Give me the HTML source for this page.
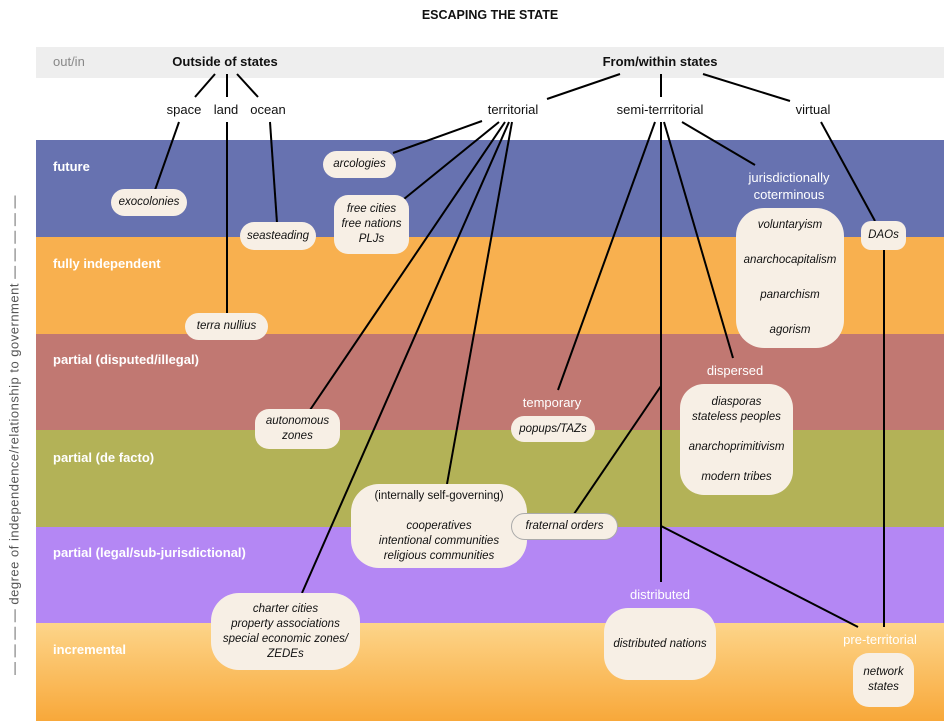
<!DOCTYPE html>
<html><head><meta charset="utf-8"><style>
body{margin:0;width:944px;height:721px;overflow:hidden;background:#fff;font-family:"Liberation Sans",Arial,sans-serif;}
.b{position:absolute;left:36px;width:908px}
.bl{position:absolute;left:53px;color:#fff;font-weight:bold;font-size:13px}
.n{position:absolute;background:#f7efe5;border-radius:14px;font-style:italic;font-size:11.5px;color:#111;display:flex;flex-direction:column;justify-content:center;align-items:center;text-align:center;line-height:15px}
.t{position:absolute;font-size:13px;color:#111;transform:translateX(-50%);white-space:nowrap}
.w{position:absolute;font-size:13px;color:#fff;transform:translateX(-50%);white-space:nowrap;text-align:center;line-height:17px}
</style></head><body>
<div class="t" style="left:490px;top:8px;font-weight:bold;font-size:12.5px">ESCAPING THE STATE</div>
<div class="b" style="top:47px;height:31px;background:#eeeeee"></div>
<div style="position:absolute;left:53px;top:54px;font-size:13px;color:#888">out/in</div>
<div class="t" style="left:225px;top:54px;font-weight:bold">Outside of states</div>
<div class="t" style="left:660px;top:54px;font-weight:bold">From/within states</div>
<div class="b" style="top:140px;height:97px;background:#6772b0"></div>
<div class="b" style="top:237px;height:97px;background:#f8b04f"></div>
<div class="b" style="top:334px;height:96px;background:#c17872"></div>
<div class="b" style="top:430px;height:97px;background:#b3b257"></div>
<div class="b" style="top:527px;height:96px;background:#b487f4"></div>
<div class="b" style="top:623px;height:98px;background:linear-gradient(#fdd58a,#f8a83a)"></div>
<div class="bl" style="top:159px">future</div>
<div class="bl" style="top:256px">fully independent</div>
<div class="bl" style="top:352px">partial (disputed/illegal)</div>
<div class="bl" style="top:450px">partial (de facto)</div>
<div class="bl" style="top:545px">partial (legal/sub-jurisdictional)</div>
<div class="bl" style="top:642px">incremental</div>
<div style="position:absolute;left:14px;top:435px;transform:translate(-50%,-50%) rotate(-90deg);white-space:nowrap;font-size:13px;color:#555;letter-spacing:0.5px">— — — — degree of independence/relationship to government — — — — —</div>
<svg width="944" height="721" style="position:absolute;left:0;top:0" stroke="#000" stroke-width="2" fill="none">
<line x1="215" y1="74" x2="195" y2="97"/><line x1="227" y1="74" x2="227" y2="97"/><line x1="237" y1="74" x2="258" y2="97"/>
<line x1="179" y1="122" x2="155" y2="190"/><line x1="227" y1="122" x2="227" y2="313"/><line x1="270" y1="122" x2="277" y2="223"/>
<line x1="620" y1="74" x2="547" y2="99"/><line x1="661" y1="74" x2="661" y2="97"/><line x1="703" y1="74" x2="790" y2="101"/>
<line x1="482" y1="121" x2="393" y2="153"/><line x1="499" y1="122" x2="404" y2="199"/><line x1="505" y1="122" x2="310" y2="410"/>
<line x1="509" y1="122" x2="302" y2="593"/><line x1="512" y1="122" x2="447" y2="484"/>
<line x1="655" y1="122" x2="558" y2="390"/><line x1="661" y1="122" x2="661" y2="582"/><line x1="664" y1="122" x2="733" y2="358"/><line x1="682" y1="122" x2="755" y2="165"/>
<line x1="661" y1="386" x2="574" y2="514"/><line x1="661" y1="526" x2="858" y2="627"/>
<line x1="821" y1="122" x2="875" y2="221"/><line x1="884" y1="250" x2="884" y2="627"/>
</svg>
<div class="t" style="left:184px;top:102px">space</div><div class="t" style="left:226px;top:102px">land</div><div class="t" style="left:268px;top:102px">ocean</div>
<div class="t" style="left:513px;top:102px">territorial</div><div class="t" style="left:660px;top:102px">semi-terrritorial</div><div class="t" style="left:813px;top:102px">virtual</div>
<div class="n" style="left:111px;top:189px;width:76px;height:27px">exocolonies</div>
<div class="n" style="left:240px;top:222px;width:76px;height:28px">seasteading</div>
<div class="n" style="left:323px;top:151px;width:73px;height:27px">arcologies</div>
<div class="n" style="left:334px;top:195px;width:75px;height:59px">free cities<br>free nations<br>PLJs</div>
<div class="n" style="left:185px;top:313px;width:83px;height:27px">terra nullius</div>
<div class="w" style="left:789px;top:169px">jurisdictionally<br>coterminous</div>
<div class="n" style="left:736px;top:208px;width:108px;height:140px;border-radius:28px;line-height:35px">voluntaryism<br>anarchocapitalism<br>panarchism<br>agorism</div>
<div class="n" style="left:861px;top:221px;width:45px;height:29px;border-radius:10px">DAOs</div>
<div class="n" style="left:255px;top:409px;width:85px;height:40px">autonomous<br>zones</div>
<div class="w" style="left:552px;top:394px">temporary</div>
<div class="n" style="left:511px;top:416px;width:84px;height:26px">popups/TAZs</div>
<div class="w" style="left:735px;top:362px">dispersed</div>
<div class="n" style="left:680px;top:384px;width:113px;height:111px;border-radius:24px">diasporas<br>stateless peoples<br><br>anarchoprimitivism<br><br>modern tribes</div>
<div class="n" style="left:351px;top:484px;width:176px;height:84px;border-radius:28px"><span style="font-style:normal">(internally self-governing)</span><br>cooperatives<br>intentional communities<br>religious communities</div>
<div class="n" style="left:511px;top:513px;width:105px;height:25px;border:1px solid #aaa">fraternal orders</div>
<div class="n" style="left:211px;top:593px;width:149px;height:77px;border-radius:28px">charter cities<br>property associations<br>special economic zones/<br>ZEDEs</div>
<div class="w" style="left:660px;top:586px">distributed</div>
<div class="n" style="left:604px;top:608px;width:112px;height:72px;border-radius:24px">distributed nations</div>
<div class="w" style="left:880px;top:631px">pre-territorial</div>
<div class="n" style="left:853px;top:653px;width:61px;height:54px;border-radius:16px">network<br>states</div>
</body></html>
